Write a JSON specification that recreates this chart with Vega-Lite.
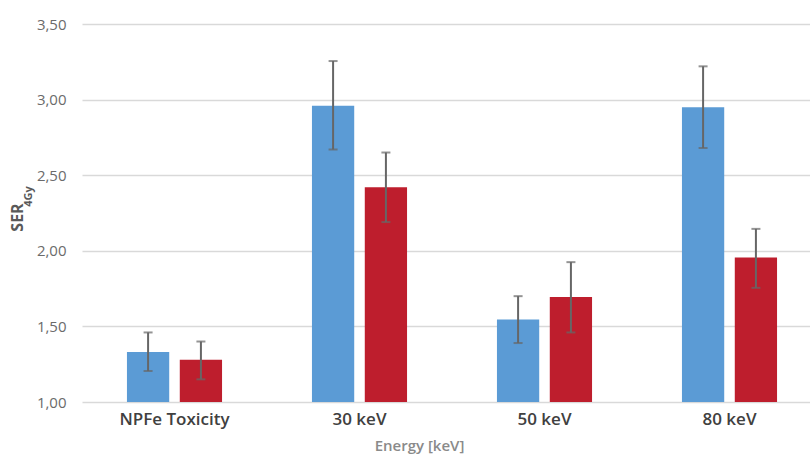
{
  "$schema": "https://vega.github.io/schema/vega-lite/v6.json",
  "width": 740,
  "height": 378,
  "autosize": {"type": "none"},
  "padding": {"left": 82, "top": 24, "right": 0, "bottom": 52},
  "background": "white",
  "config": {"view": {"stroke": null}, "font": "Open Sans"},
  "data": {
    "values": [
      {"energy": "NPFe Toxicity", "series": "A", "value": 1.33, "low": 1.205, "high": 1.46},
      {"energy": "NPFe Toxicity", "series": "B", "value": 1.28, "low": 1.15, "high": 1.40},
      {"energy": "30 keV", "series": "A", "value": 2.96, "low": 2.67, "high": 3.255},
      {"energy": "30 keV", "series": "B", "value": 2.42, "low": 2.19, "high": 2.65},
      {"energy": "50 keV", "series": "A", "value": 1.545, "low": 1.39, "high": 1.70},
      {"energy": "50 keV", "series": "B", "value": 1.695, "low": 1.46, "high": 1.925},
      {"energy": "80 keV", "series": "A", "value": 2.95, "low": 2.68, "high": 3.22},
      {"energy": "80 keV", "series": "B", "value": 1.955, "low": 1.755, "high": 2.145}
    ]
  },
  "encoding": {
    "x": {
      "field": "energy",
      "type": "nominal",
      "sort": ["NPFe Toxicity", "30 keV", "50 keV", "80 keV"],
      "scale": {"paddingInner": 0.486, "paddingOuter": 0.243},
      "axis": {
        "labelAngle": 0,
        "domain": false,
        "ticks": false,
        "labelPadding": 9,
        "labelFontSize": 17,
        "labelFontWeight": 600,
        "labelColor": "#404040",
        "title": "Energy [keV]",
        "titleFontSize": 15,
        "titleFontWeight": 600,
        "titleColor": "#8a8a8a",
        "titlePadding": 11,
        "titleX": 337
      }
    },
    "xOffset": {"field": "series", "type": "nominal", "scale": {"paddingInner": 0.2}}
  },
  "layer": [
    {
      "mark": {"type": "bar"},
      "encoding": {
        "y": {
          "field": "value",
          "type": "quantitative",
          "scale": {"domain": [1, 3.5], "zero": false, "nice": false},
          "axis": {
            "values": [1, 1.5, 2, 2.5, 3, 3.5],
            "labelExpr": "replace(format(datum.value, '.2f'), '.', ',')",
            "domain": false,
            "ticks": false,
            "labelPadding": 16,
            "labelFontSize": 15,
            "labelColor": "#6b6b6b",
            "gridColor": "#d9d9d9",
            "gridWidth": 1.5,
            "title": "SER",
            "titleFontSize": 16,
            "titleFontWeight": "bold",
            "titleColor": "#595959",
            "titleAngle": 270,
            "titleBaseline": "bottom",
            "titleX": -57,
            "titleY": 193
          }
        },
        "y2": {"datum": 1},
        "color": {
          "field": "series",
          "type": "nominal",
          "scale": {"domain": ["A", "B"], "range": ["#5b9bd5", "#be1e2d"]},
          "legend": null
        }
      }
    },
    {
      "mark": {"type": "rule", "color": "#666666", "strokeWidth": 2},
      "encoding": {
        "y": {
          "field": "low",
          "type": "quantitative",
          "scale": {"domain": [1, 3.5], "zero": false, "nice": false},
          "axis": {
            "orient": "right",
            "labels": false,
            "ticks": false,
            "domain": false,
            "grid": false,
            "title": "4Gy",
            "titleFontSize": 11,
            "titleFontWeight": "bold",
            "titleColor": "#595959",
            "titleAngle": 270,
            "titleBaseline": "bottom",
            "titleX": -789,
            "titleY": 172
          }
        },
        "y2": {"field": "high"}
      }
    },
    {
      "mark": {"type": "tick", "color": "#666666", "thickness": 2, "size": 9},
      "encoding": {
        "y": {"field": "low", "type": "quantitative", "scale": {"domain": [1, 3.5], "zero": false, "nice": false}, "axis": null}
      }
    },
    {
      "mark": {"type": "tick", "color": "#666666", "thickness": 2, "size": 9},
      "encoding": {
        "y": {"field": "high", "type": "quantitative", "scale": {"domain": [1, 3.5], "zero": false, "nice": false}, "axis": null}
      }
    }
  ],
  "resolve": {"scale": {"y": "independent"}}
}
